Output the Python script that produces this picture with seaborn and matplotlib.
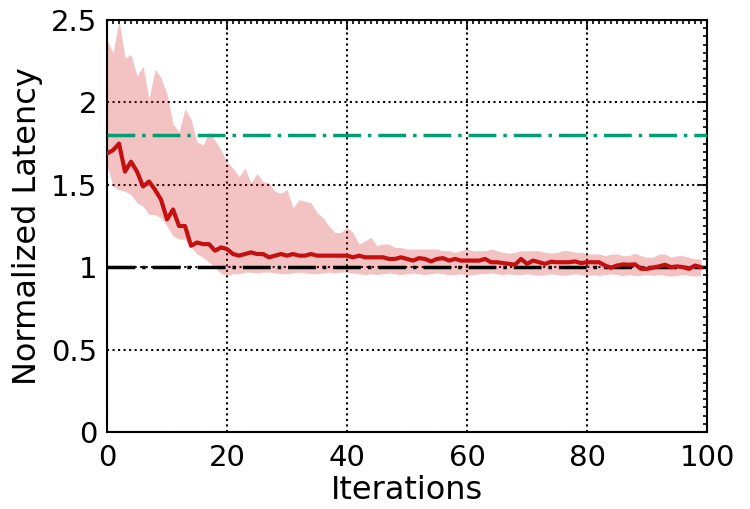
import numpy as np
import pandas as pd
import matplotlib
matplotlib.use('Agg')
import matplotlib.pyplot as plt
import seaborn as sns
from matplotlib.ticker import MultipleLocator

# --- data ---
iterations = list(range(100))

mean_latency = [
    1.69, 1.71, 1.75, 1.58, 1.64, 1.58, 1.49, 1.52, 1.47, 1.41,
    1.29, 1.35, 1.25, 1.25, 1.13, 1.15, 1.14, 1.14, 1.10, 1.12,
    1.11, 1.08, 1.07, 1.08, 1.09, 1.08, 1.08, 1.06, 1.07, 1.08,
    1.07, 1.08, 1.07, 1.07, 1.08, 1.07, 1.07, 1.07, 1.07, 1.07,
    1.07, 1.06, 1.07, 1.06, 1.06, 1.06, 1.06, 1.05, 1.05, 1.06,
    1.05, 1.04, 1.055, 1.05, 1.035, 1.05, 1.055, 1.04, 1.05, 1.04,
    1.04, 1.04, 1.04, 1.05, 1.03, 1.03, 1.025, 1.02, 1.015, 1.05,
    1.02, 1.04, 1.03, 1.02, 1.033, 1.03, 1.03, 1.03, 1.035, 1.025,
    1.03, 1.03, 1.03, 1.01, 0.997, 1.01, 1.017, 1.015, 1.017, 0.99,
    0.99, 0.997, 1.005, 1.015, 1.0, 1.005, 1.0, 0.99, 1.01, 1.0,
]

upper_band = [
    2.38, 2.30, 2.50, 2.27, 2.29, 2.16, 2.22, 2.02, 2.20, 2.15,
    2.05, 1.87, 1.82, 1.96, 1.90, 1.76, 1.74, 1.82, 1.77, 1.71,
    1.64, 1.60, 1.55, 1.60, 1.51, 1.57, 1.52, 1.51, 1.46, 1.45,
    1.47, 1.36, 1.41, 1.40, 1.39, 1.33, 1.30, 1.25, 1.21, 1.21,
    1.24, 1.21, 1.14, 1.16, 1.18, 1.13, 1.14, 1.14, 1.12, 1.12,
    1.11, 1.11, 1.11, 1.11, 1.11, 1.11, 1.10, 1.10, 1.09, 1.10,
    1.11, 1.10, 1.10, 1.10, 1.11, 1.10, 1.09, 1.085, 1.09, 1.10,
    1.10, 1.10, 1.10, 1.09, 1.085, 1.09, 1.10, 1.10, 1.09, 1.09,
    1.08, 1.08, 1.08, 1.07, 1.08, 1.08, 1.07, 1.07, 1.085, 1.07,
    1.06, 1.06, 1.08, 1.08, 1.06, 1.07, 1.07, 1.06, 1.05, 1.05,
]

lower_band = [
    1.62, 1.49, 1.47, 1.46, 1.44, 1.39, 1.37, 1.32, 1.32, 1.30,
    1.25, 1.19, 1.17, 1.17, 1.12, 1.08, 1.06, 1.03, 1.00, 0.96,
    0.95, 0.96, 0.96, 0.97, 0.97, 0.965, 0.97, 0.97, 0.965, 0.96,
    0.96, 0.965, 0.97, 0.965, 0.96, 0.96, 0.965, 0.97, 0.965, 0.97,
    0.97, 0.965, 0.96, 0.955, 0.96, 0.955, 0.96, 0.965, 0.96, 0.955,
    0.96, 0.965, 0.96, 0.955, 0.96, 0.965, 0.96, 0.955, 0.955, 0.96,
    0.95, 0.955, 0.96, 0.96, 0.965, 0.96, 0.955, 0.96, 0.955, 0.955,
    0.96, 0.955, 0.95, 0.955, 0.96, 0.955, 0.95, 0.955, 0.96, 0.955,
    0.95, 0.955, 0.95, 0.955, 0.96, 0.955, 0.95, 0.955, 0.95, 0.95,
    0.955, 0.95, 0.955, 0.95, 0.945, 0.95, 0.955, 0.95, 0.945, 0.95,
]

baseline_level = 1.0
other_level = 1.8

df = pd.DataFrame({'iteration': iterations, 'mean': mean_latency,
                   'upper': upper_band, 'lower': lower_band})

# --- style ---
sns.set_style('white')
plt.rcParams['font.family'] = ['DejaVu Sans']
plt.rcParams['text.color'] = 'black'
plt.rcParams['axes.labelcolor'] = 'black'
plt.rcParams['xtick.color'] = 'black'
plt.rcParams['ytick.color'] = 'black'

fig = plt.figure(figsize=(7.5, 5.09), dpi=100)
ax = fig.add_axes([0.1427, 0.1513, 0.80, 0.8094])

ax.fill_between(df['iteration'], df['lower'], df['upper'],
                color='#d62728', alpha=0.28, linewidth=0, zorder=2)
ax.axhline(baseline_level, color='black', lw=2.5,
           ls=(0, (8, 2, 1, 2)), zorder=3)
ax.axhline(other_level, color='#009e73', lw=2.5,
           ls=(0, (8, 2, 1, 2)), zorder=3)
sns.lineplot(data=df, x='iteration', y='mean', ax=ax, color='#c41010',
             lw=3, zorder=4)

ax.set_xlim(0, 100)
ax.set_ylim(0, 2.5)
ax.xaxis.set_major_locator(MultipleLocator(20))
ax.xaxis.set_minor_locator(MultipleLocator(1))
ax.yaxis.set_minor_locator(MultipleLocator(0.05))
ax.set_yticks([0, 0.5, 1, 1.5, 2, 2.5])
ax.set_yticklabels(['0', '0.5', '1', '1.5', '2', '2.5'])

ax.grid(True, which='major', color='black', ls=':', lw=1.5)
ax.tick_params(which='both', direction='in', top=True, right=True,
               labelsize=21, width=1.2)
ax.tick_params(which='major', length=7)
ax.tick_params(which='minor', length=3)
ax.tick_params(axis='x', pad=9)
ax.tick_params(axis='y', pad=7)
for s in ax.spines.values():
    s.set_color('black')
    s.set_linewidth(1.5)

ax.set_xlabel('Iterations', fontsize=23, labelpad=2)
ax.set_ylabel('Normalized Latency', fontsize=23, labelpad=6)

fig.savefig('out.png', dpi=100)
